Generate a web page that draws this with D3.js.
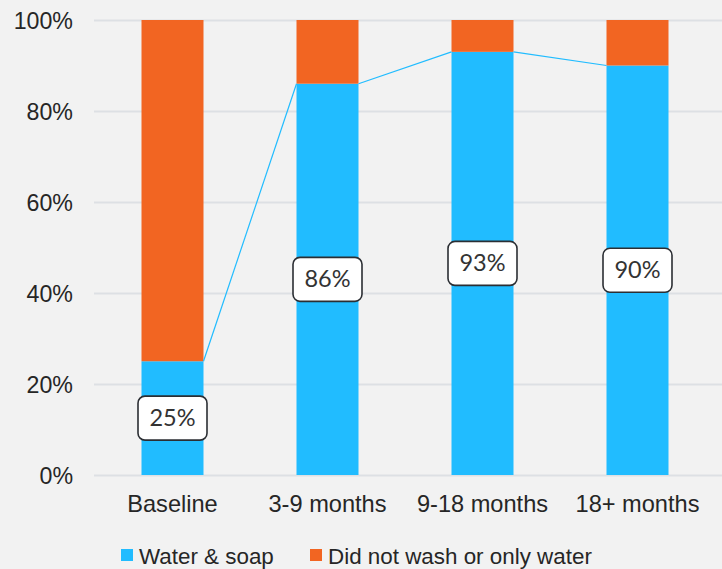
<!DOCTYPE html>
<html>
<head>
<meta charset="utf-8">
<script src="https://cdn.jsdelivr.net/npm/d3@7"></script>
<style>
  html, body { margin: 0; padding: 0; background: #f2f2f2; }
  svg { display: block; }
</style>
</head>
<body>
<script>
// data
var categories = ["Baseline", "3-9 months", "9-18 months", "18+ months"];
var waterSoap = [25, 86, 93, 90];
var noWash = [75, 14, 7, 10];
var seriesNames = ["Water & soap", "Did not wash or only water"];
var yTicks = [0, 20, 40, 60, 80, 100];

var W = 722, H = 569;
var colors = ["#21bcff", "#f26522"];
var font = "'Liberation Sans', Arial, sans-serif";

var svg = d3.select("body").append("svg")
  .attr("width", W)
  .attr("height", H);

svg.append("rect").attr("width", W).attr("height", H).attr("fill", "#f2f2f2");

var x = d3.scaleBand()
  .domain(categories)
  .range([95, 715])
  .paddingInner(0.6)
  .paddingOuter(0.3);

var y = d3.scaleLinear()
  .domain([0, 100])
  .range([475, 20]);

// gridlines
svg.append("g").selectAll("line")
  .data(yTicks)
  .enter()
  .append("line")
  .attr("x1", 94)
  .attr("x2", W)
  .attr("y1", function(d) { return y(d) + 0.5; })
  .attr("y2", function(d) { return y(d) + 0.5; })
  .attr("stroke", "#dde0e4")
  .attr("stroke-width", 2);

// y axis labels
svg.append("g").selectAll("text")
  .data(yTicks)
  .enter()
  .append("text")
  .attr("x", 73)
  .attr("y", function(d) { return y(d) + 8.5; })
  .attr("text-anchor", "end")
  .attr("font-family", font)
  .attr("font-size", 23.2)
  .attr("fill", "#262626")
  .text(function(d) { return d + "%"; });

// x axis labels
svg.append("g").selectAll("text")
  .data(categories)
  .enter()
  .append("text")
  .attr("x", function(d) { return x(d) + x.bandwidth() / 2; })
  .attr("y", 512)
  .attr("text-anchor", "middle")
  .attr("font-family", font)
  .attr("font-size", 23.6)
  .attr("fill", "#262626")
  .text(function(d) { return d; });

// stacked bars
var rows = categories.map(function(c, i) {
  return { cat: c, soap: waterSoap[i], nowash: noWash[i] };
});
var stack = d3.stack().keys(["soap", "nowash"]);
var layers = stack(rows);

svg.append("g").selectAll("g")
  .data(layers)
  .enter()
  .append("g")
  .attr("fill", function(d, i) { return colors[i]; })
  .selectAll("rect")
  .data(function(d) { return d; })
  .enter()
  .append("rect")
  .attr("x", function(d) { return x(d.data.cat); })
  .attr("width", x.bandwidth())
  .attr("y", function(d) { return y(d[1]); })
  .attr("height", function(d) { return y(d[0]) - y(d[1]); });

// series lines between blue tops
var links = d3.pairs(rows);
svg.append("g").selectAll("line")
  .data(links)
  .enter()
  .append("line")
  .attr("x1", function(d) { return x(d[0].cat) + x.bandwidth(); })
  .attr("y1", function(d) { return y(d[0].soap); })
  .attr("x2", function(d) { return x(d[1].cat); })
  .attr("y2", function(d) { return y(d[1].soap); })
  .attr("stroke", "#21bcff")
  .attr("stroke-width", 1.2);

// value labels
var lab = svg.append("g").selectAll("g")
  .data(rows)
  .enter()
  .append("g")
  .attr("transform", function(d) {
    return "translate(" + (x(d.cat) + x.bandwidth() / 2) + "," + y(d.soap / 2) + ")";
  });

lab.append("rect")
  .attr("x", -34.5)
  .attr("y", -22)
  .attr("width", 69)
  .attr("height", 44)
  .attr("rx", 7)
  .attr("fill", "#ffffff")
  .attr("stroke", "#2b2e33")
  .attr("stroke-width", 1.6);

lab.append("text")
  .attr("text-anchor", "middle")
  .attr("y", 8)
  .attr("font-family", "Lato, 'Open Sans', sans-serif")
  .attr("font-size", 23.5)
  .attr("fill", "#333333")
  .text(function(d) { return d.soap + "%"; });

// legend
var legX = [121, 310];
var leg = svg.append("g").selectAll("g")
  .data(seriesNames)
  .enter()
  .append("g")
  .attr("transform", function(d, i) { return "translate(" + legX[i] + ",549)"; });

leg.append("rect")
  .attr("width", 12)
  .attr("height", 12)
  .attr("fill", function(d, i) { return colors[i]; });

leg.append("text")
  .attr("x", 18)
  .attr("y", 15)
  .attr("font-family", font)
  .attr("font-size", 22.4)
  .attr("fill", "#262626")
  .text(function(d) { return d; });
</script>
</body>
</html>
